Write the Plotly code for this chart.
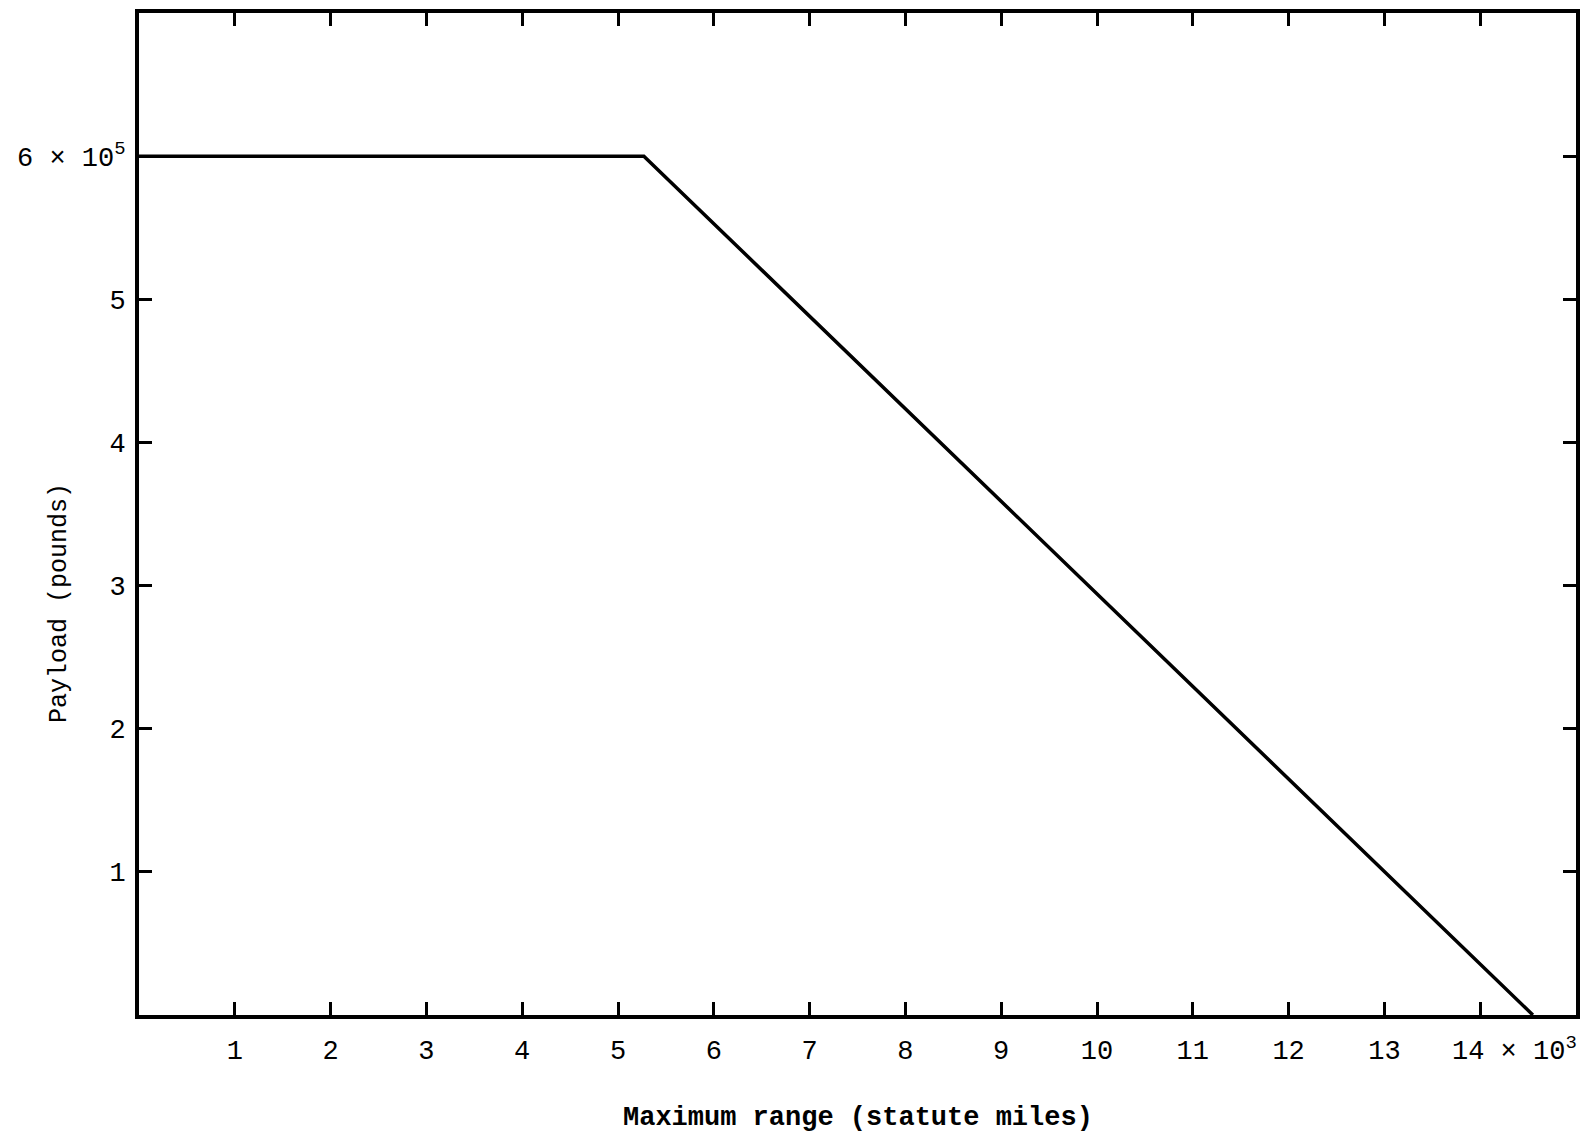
import plotly.graph_objects as go

range_k = [0.0, 5.27, 14.55]          # maximum range, thousands of statute miles
payload_e5 = [6.0, 6.0, 0.0]          # payload, 1e5 pounds

x_ticks = list(range(1, 15))
x_labels = [str(v) for v in range(1, 14)] + [""]
last_x_label = "14 × 10<sup>3</sup>"
y_ticks = [1, 2, 3, 4, 5, 6]
y_labels = ["1", "2", "3", "4", "5", "6 × 10<sup>5</sup>"]

font = "Liberation Mono, Courier New, monospace"

# page body has an 8px default margin; figure sized so nothing overflows
W, H = 1574, 1125
L, T, R, B = 131, 5, 6, 118

fig = go.Figure()
fig.add_trace(go.Scatter(x=range_k, y=payload_e5, mode="lines",
                         line=dict(color="black", width=3.5), showlegend=False,
                         hoverinfo="skip"))

fig.update_layout(
    width=W, height=H,
    margin=dict(l=L, r=R, t=T, b=B, autoexpand=False),
    paper_bgcolor="white", plot_bgcolor="white",
    font=dict(family=font, color="black", size=27),
    xaxis=dict(range=[0, 15], tickvals=x_ticks, ticktext=x_labels,
               ticks="inside", ticklen=13, tickwidth=2.5, tickcolor="black",
               showline=True, linewidth=4, linecolor="black", mirror="allticks",
               showgrid=False, zeroline=False, automargin=False,
               ticklabelstandoff=8,
               tickfont=dict(family=font, size=27, color="black")),
    yaxis=dict(range=[0, 7], tickvals=y_ticks, ticktext=y_labels,
               ticks="inside", ticklen=13, tickwidth=2.5, tickcolor="black",
               showline=True, linewidth=4, linecolor="black", mirror="allticks",
               showgrid=False, zeroline=False, automargin=False,
               ticklabelstandoff=4,
               tickfont=dict(family=font, size=27, color="black")),
)

fig.add_annotation(x=x_ticks[-1], y=0, xref="x", yref="paper", text=last_x_label,
                   showarrow=False, xanchor="left", yanchor="middle",
                   xshift=-30, yshift=-34,
                   font=dict(family=font, size=27, color="black"))

fig.add_annotation(x=0.5, y=0, xref="paper", yref="paper",
                   text="<b>Maximum range (statute miles)</b>",
                   showarrow=False, xanchor="center", yanchor="middle",
                   xshift=0, yshift=-103,
                   font=dict(family=font, size=27, color="black"))

fig.add_annotation(x=0, y=0.5, xref="paper", yref="paper",
                   text="Payload (pounds)", textangle=-90,
                   showarrow=False, xanchor="center", yanchor="middle",
                   xshift=-80, yshift=-89,
                   font=dict(family=font, size=25, color="black"))

fig.write_html("out.html")
